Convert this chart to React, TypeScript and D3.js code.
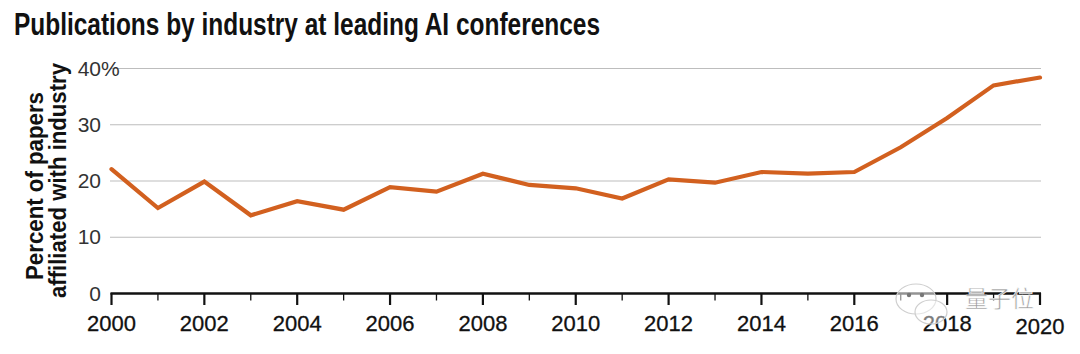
import React from 'react';
import * as d3 from 'd3';

const years = [2000, 2001, 2002, 2003, 2004, 2005, 2006, 2007, 2008, 2009, 2010,
  2011, 2012, 2013, 2014, 2015, 2016, 2017, 2018, 2019, 2020];
const industryShare = [22.1, 15.2, 19.9, 13.9, 16.4, 14.9, 18.9, 18.1, 21.3, 19.3, 18.7,
  16.9, 20.3, 19.7, 21.6, 21.3, 21.6, 26.0, 31.2, 37.0, 38.4];
const yTicks = [0, 10, 20, 30, 40];
const xLabels = [2000, 2002, 2004, 2006, 2008, 2010, 2012, 2014, 2016, 2018, 2020];

const width = 1080;
const height = 354;
const orange = '#d2601f';
const sans = '"Liberation Sans", Arial, sans-serif';

const App: React.FC = () => {
  const x = d3.scaleLinear().domain([2000, 2020]).range([111.5, 1040]);
  const y = d3.scaleLinear().domain([0, 40]).range([293.5, 68.5]);

  const line = d3.line<number>()
    .x((_, i) => x(years[i]))
    .y(d => y(d));

  return (
    <svg width={width} height={height} style={{ position: 'absolute', left: 0, top: 0, background: '#fff' }}>
      {/* title, squeezed to mimic the condensed face */}
      <text x={14} y={35} fontFamily={sans} fontWeight="bold" fontSize={31} fill="#111"
        textLength={586} lengthAdjust="spacingAndGlyphs">
        Publications by industry at leading AI conferences
      </text>

      {/* y axis title */}
      <g fontFamily={sans} fontWeight="bold" fontSize={24} fill="#111">
        <text transform="translate(43,280) rotate(-90)" textLength={188} lengthAdjust="spacingAndGlyphs">
          Percent of papers
        </text>
        <text transform="translate(66,298) rotate(-90)" textLength={235} lengthAdjust="spacingAndGlyphs">
          affiliated with industry
        </text>
      </g>

      {/* gridlines + y labels */}
      {yTicks.filter(t => t > 0).map(t => (
        <line key={t} x1={110} x2={1041} y1={y(t)} y2={y(t)} stroke="#bdbdbd" strokeWidth={1.2} />
      ))}
      <g fontFamily={sans} fontSize={21} fill="#333">
        {yTicks.map(t => (
          <text key={t} x={101} y={y(t) + 7} textAnchor="end">{t}</text>
        ))}
        <text x={101} y={y(40) + 7}>%</text>
      </g>

      {/* x axis */}
      <line x1={110.5} x2={1041} y1={293.5} y2={293.5} stroke="#111" strokeWidth={2.5} />
      {years.map(yr => {
        const major = yr % 2 === 0;
        return (
          <line key={yr} x1={x(yr)} x2={x(yr)} y1={293} y2={major ? 305 : 300.5}
            stroke="#111" strokeWidth={major ? 2.2 : 1.3} />
        );
      })}
      <g fontFamily={sans} fontSize={22} fill="#111" textAnchor="middle" stroke="#111" strokeWidth={0.3}>
        {xLabels.map(yr => (
          <text key={yr} x={x(yr)} y={yr === 2020 ? 334 : 331}>{yr}</text>
        ))}
      </g>

      <path d={line(industryShare) || ''} fill="none" stroke={orange} strokeWidth={4.2}
        strokeLinejoin="miter" strokeLinecap="round" />

      {/* watermark */}
      <g>
        <ellipse cx={916} cy={299} rx={20} ry={15} fill="#fff" fillOpacity={0.55} stroke="#cfcfcf" strokeWidth={1.2} />
        <ellipse cx={931} cy={312} rx={16} ry={12} fill="#fff" fillOpacity={0.45} stroke="#cfcfcf" strokeWidth={1.2} />
        <circle cx={909} cy={295} r={2.2} fill="#777" />
        <circle cx={922} cy={295} r={2.2} fill="#777" />
        <text x={965} y={307} fontFamily='"Noto Sans CJK SC", sans-serif' fontSize={23}
          fill="#9a9a9a" stroke="#fff" strokeWidth={0.6}>量子位</text>
      </g>
    </svg>
  );
};

export default App;
